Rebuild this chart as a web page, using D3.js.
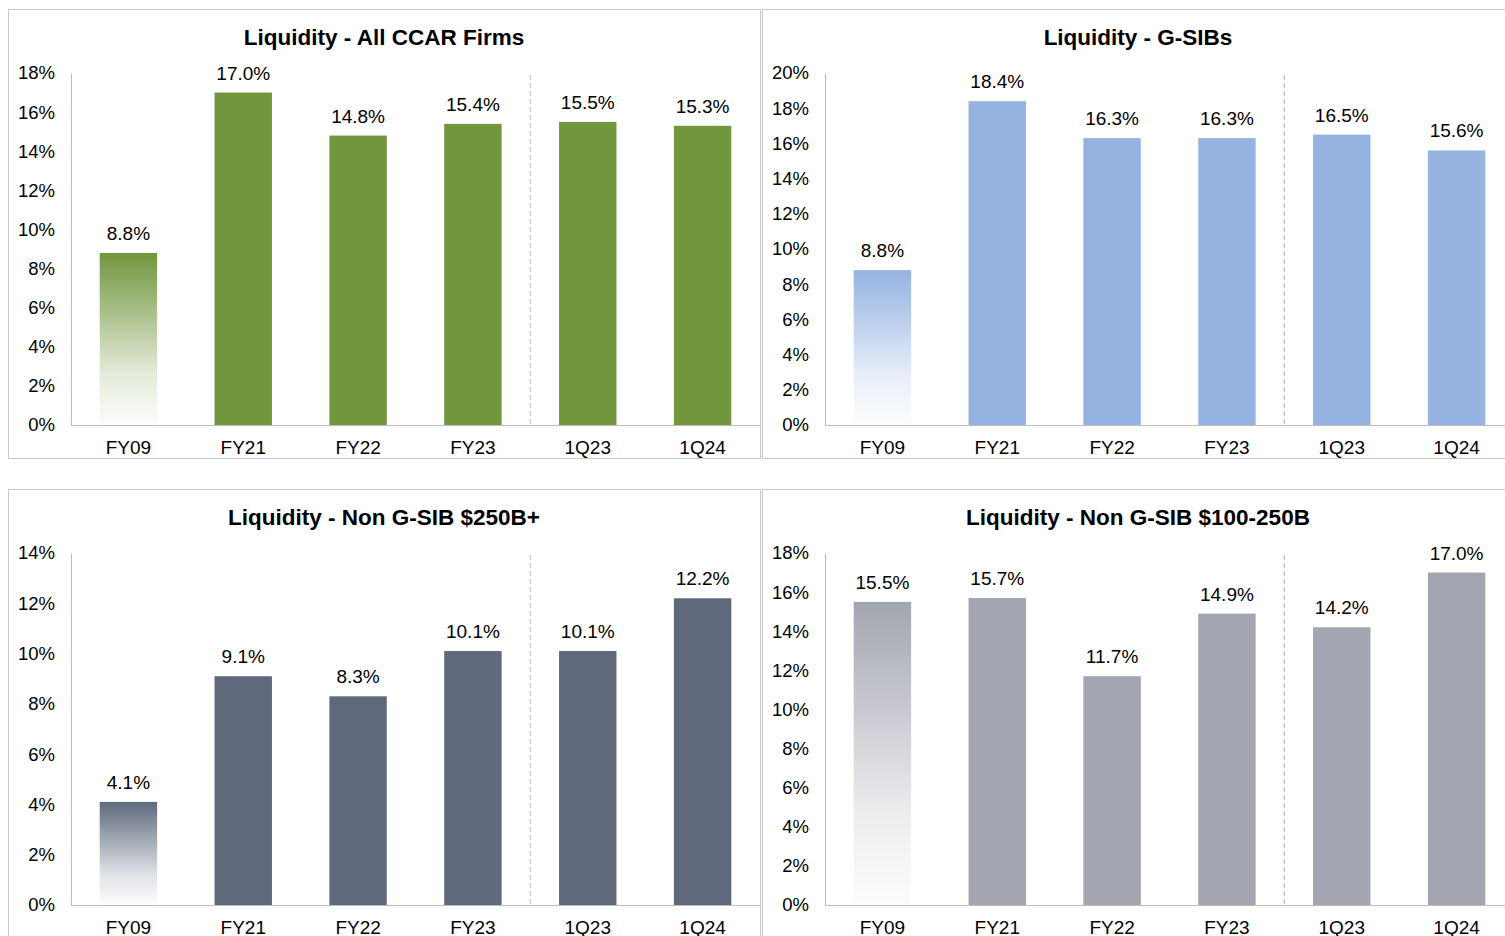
<!DOCTYPE html>
<html><head><meta charset="utf-8">
<script src="https://cdn.jsdelivr.net/npm/d3@7"></script>
<style>
html,body{margin:0;padding:0;background:#fff;}
svg{display:block;font-family:"Liberation Sans",Arial,sans-serif;}
</style></head>
<body>
<svg id="chart" width="1505" height="936"></svg>
<script>
const categories = ["FY09","FY21","FY22","FY23","1Q23","1Q24"];
const titles = ["Liquidity - All CCAR Firms","Liquidity - G-SIBs","Liquidity - Non G-SIB $250B+","Liquidity - Non G-SIB $100-250B"];
const allCcar = [8.8,17.0,14.8,15.4,15.5,15.3];
const gsibs = [8.8,18.4,16.3,16.3,16.5,15.6];
const nonGsib250 = [4.1,9.1,8.3,10.1,10.1,12.2];
const nonGsib100 = [15.5,15.7,11.7,14.9,14.2,17.0];
const yMaxes = [18,20,14,18];
const colors = ["#71963e","#95b3e1","#5e6a7c","#a3a5b0"];

const svg = d3.select("#chart");
const defs = svg.append("defs");

const panels = [
  {x:8, y:9, w:752, h:449, values:allCcar},
  {x:762, y:9, w:752, h:449, values:gsibs},
  {x:8, y:489, w:752, h:449, values:nonGsib250},
  {x:762, y:489, w:752, h:449, values:nonGsib100}
];

panels.forEach((p,i)=>{
  const g = svg.append("g").attr("transform",`translate(${p.x},${p.y})`);
  g.append("rect").attr("x",0.5).attr("y",0.5).attr("width",p.w).attr("height",p.h)
    .attr("fill","#fff").attr("stroke","#c8c8c8").attr("stroke-width",1);
  g.append("text").attr("x",p.w/2).attr("y",36).attr("text-anchor","middle")
    .attr("font-size","22.5px").attr("font-weight","bold").attr("fill","#000").text(titles[i]);

  const left = 63, right = p.w, top = 64, bottom = 416;
  const x = d3.scaleBand().domain(categories).range([left,left+689]).paddingInner(0.5).paddingOuter(0.25);
  const y = d3.scaleLinear().domain([0,yMaxes[i]]).range([bottom,top]);

  const gid = "grad"+i;
  const gr = defs.append("linearGradient").attr("id",gid).attr("x1",0).attr("y1",0).attr("x2",0).attr("y2",1);
  gr.append("stop").attr("offset","0%").attr("stop-color",colors[i]);
  gr.append("stop").attr("offset","35%").attr("stop-color",d3.interpolateRgb(colors[i],"#fff")(0.4));
  gr.append("stop").attr("offset","70%").attr("stop-color",d3.interpolateRgb(colors[i],"#fff")(0.8));
  gr.append("stop").attr("offset","100%").attr("stop-color","#fdfdfd");

  const yAxis = d3.axisLeft(y).ticks(yMaxes[i]/2).tickSize(0).tickPadding(16).tickFormat(d=>d+"%");
  const ya = g.append("g").attr("transform",`translate(${left},0)`).call(yAxis);
  ya.select(".domain").attr("stroke","#bdbdbd");
  ya.selectAll("text").attr("font-size","18.5px").attr("fill","#000").attr("font-family","Liberation Sans, Arial, sans-serif");

  const dx = (x("FY23")+x.bandwidth()+x("1Q23"))/2;
  g.append("line").attr("x1",dx).attr("x2",dx).attr("y1",top+2).attr("y2",bottom)
    .attr("stroke","#c8c8c8").attr("stroke-width",1.3).attr("stroke-dasharray","5,3");

  g.selectAll("rect.bar").data(p.values).enter().append("rect").attr("class","bar")
    .attr("x",(d,j)=>x(categories[j])).attr("width",x.bandwidth())
    .attr("y",d=>y(d)).attr("height",d=>bottom-y(d))
    .attr("fill",(d,j)=>j===0?`url(#${gid})`:colors[i]);

  g.selectAll("text.lbl").data(p.values).enter().append("text").attr("class","lbl")
    .attr("x",(d,j)=>x(categories[j])+x.bandwidth()/2).attr("y",d=>y(d)-13)
    .attr("text-anchor","middle").attr("font-size","19px").attr("fill","#000")
    .text(d=>d.toFixed(1)+"%");

  const xAxis = d3.axisBottom(x).tickSize(0).tickPadding(16);
  const xa = g.append("g").attr("transform",`translate(0,${bottom})`).call(xAxis);
  xa.select(".domain").remove();
  g.append("line").attr("x1",left).attr("x2",right).attr("y1",bottom+0.5).attr("y2",bottom+0.5).attr("stroke","#bdbdbd");
  xa.selectAll("text").attr("font-size","19px").attr("fill","#000").attr("font-family","Liberation Sans, Arial, sans-serif");
});
</script>
</body></html>
